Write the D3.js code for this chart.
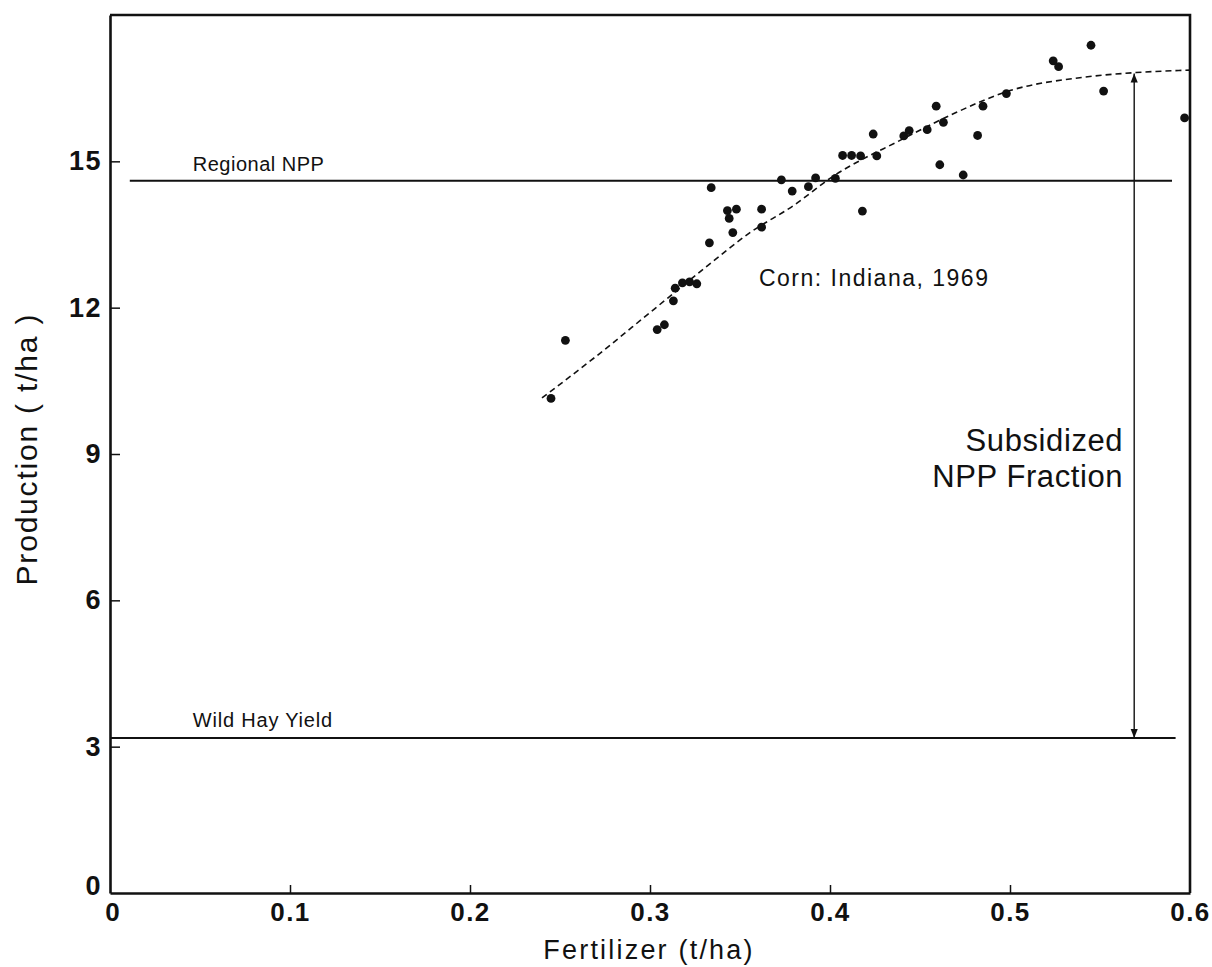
<!DOCTYPE html>
<html>
<head>
<meta charset="utf-8">
<script src="https://cdn.jsdelivr.net/npm/d3@7"></script>
<style>
  body { margin: 0; background: #fff; }
  text { font-family: "Liberation Sans", Arial, Helvetica, sans-serif; fill: #111; }
</style>
</head>
<body>
<svg id="chart" width="1212" height="967"></svg>
<script>
// ---- data ----
const fertilizer = [0.245, 0.253, 0.304, 0.308, 0.313, 0.314, 0.318, 0.322, 0.326, 0.333,
  0.334, 0.343, 0.348, 0.344, 0.346, 0.362, 0.362, 0.373, 0.379, 0.388,
  0.392, 0.403, 0.407, 0.412, 0.417, 0.418, 0.424, 0.426, 0.441, 0.444,
  0.454, 0.459, 0.463, 0.461, 0.474, 0.482, 0.485, 0.498, 0.524, 0.527,
  0.545, 0.552, 0.597];
const production = [10.14, 11.33, 11.55, 11.65, 12.14, 12.40, 12.51, 12.53, 12.49, 13.33,
  14.46, 13.99, 14.02, 13.83, 13.54, 14.02, 13.65, 14.62, 14.39, 14.48,
  14.66, 14.65, 15.12, 15.12, 15.11, 13.98, 15.56, 15.11, 15.52, 15.63,
  15.65, 16.13, 15.80, 14.93, 14.72, 15.53, 16.13, 16.39, 17.06, 16.94,
  17.38, 16.44, 15.89];

// fitted (dashed) curve
const fitX = [0.240, 0.270, 0.300, 0.330, 0.356, 0.380, 0.400, 0.440, 0.470, 0.500, 0.540, 0.570, 0.600];
const fitY = [10.15, 11.00, 11.90, 12.80, 13.55, 14.10, 14.65, 15.45, 16.00, 16.45, 16.72, 16.82, 16.87];

const xTicks = [0, 0.1, 0.2, 0.3, 0.4, 0.5, 0.6];
const xTickLabels = ["0", "0.1", "0.2", "0.3", "0.4", "0.5", "0.6"];
const yTicks = [0, 3, 6, 9, 12, 15];
const yTickLabels = ["0", "3", "6", "9", "12", "15"];

const regionalNPP = 14.6;      // t/ha
const regionalNPPSpan = [0.011, 0.590];
const wildHay = 3.18;          // t/ha
const wildHaySpan = [0.0, 0.592];
const arrowX = 0.569;
const arrowTop = 16.8;

// ---- layout ----
const svg = d3.select("#chart");
const x = d3.scaleLinear().domain([0, 0.6]).range([110, 1190]);
const y = d3.scaleLinear().domain([0, 18]).range([893, 15]);

const defs = svg.append("defs");
defs.append("marker").attr("id", "ah")
  .attr("viewBox", "0 0 10 10").attr("refX", 10).attr("refY", 5)
  .attr("markerWidth", 9).attr("markerHeight", 9)
  .attr("markerUnits", "userSpaceOnUse")
  .attr("orient", "auto-start-reverse")
  .append("path").attr("d", "M0,1 L10,5 L0,9 Z").attr("fill", "#111");

// frame (top and right sides)
svg.append("path")
  .attr("d", `M${x(0)},${y(18)} L${x(0.6)},${y(18)} L${x(0.6)},${y(0)}`)
  .attr("fill", "none").attr("stroke", "#111").attr("stroke-width", 2.6);

// axes
const xAxis = svg.append("g").attr("transform", `translate(0,${y(0)})`)
  .call(d3.axisBottom(x).tickValues(xTicks).tickSize(0).tickPadding(10)
    .tickFormat((d, i) => xTickLabels[i]));
xAxis.select(".domain").attr("stroke", "#111").attr("stroke-width", 2.6);
xAxis.selectAll("text").attr("font-size", 26).attr("font-weight", "bold")
  .attr("letter-spacing", 1.5).attr("fill", "#111");
xAxis.selectAll(".tick").filter(d => d > 0 && d < 0.6)
  .append("line").attr("y1", 0).attr("y2", -8).attr("stroke", "#111").attr("stroke-width", 1.5);

const yAxis = svg.append("g").attr("transform", `translate(${x(0)},0)`)
  .call(d3.axisLeft(y).tickValues(yTicks).tickSize(0).tickPadding(8)
    .tickFormat((d, i) => yTickLabels[i]));
yAxis.select(".domain").attr("stroke", "#111").attr("stroke-width", 2.6);
yAxis.selectAll("text").attr("font-size", 27).attr("font-weight", "bold")
  .attr("letter-spacing", 1.5).attr("fill", "#111");
yAxis.selectAll(".tick").filter(d => d > 0)
  .append("line").attr("x1", 0).attr("x2", 10).attr("stroke", "#111").attr("stroke-width", 1.5);
yAxis.selectAll(".tick").filter(d => d === 0).select("text").attr("dy", "0.05em");
xAxis.selectAll(".tick").filter(d => d === 0).select("text").attr("dx", "0.1em");

// axis titles
svg.append("text")
  .attr("x", x(0.3) - 1).attr("y", 959)
  .attr("text-anchor", "middle").attr("font-size", 27).attr("letter-spacing", 2.2)
  .text("Fertilizer (t/ha)");
svg.append("text")
  .attr("transform", `translate(37,${y(9.1)}) rotate(-90)`)
  .attr("text-anchor", "middle").attr("font-size", 30).attr("letter-spacing", 1.8)
  .text("Production ( t/ha )");

// horizontal reference lines
svg.append("line")
  .attr("x1", x(regionalNPPSpan[0])).attr("x2", x(regionalNPPSpan[1]))
  .attr("y1", y(regionalNPP)).attr("y2", y(regionalNPP))
  .attr("stroke", "#111").attr("stroke-width", 2);
svg.append("line")
  .attr("x1", x(wildHaySpan[0])).attr("x2", x(wildHaySpan[1]))
  .attr("y1", y(wildHay)).attr("y2", y(wildHay))
  .attr("stroke", "#111").attr("stroke-width", 2);

svg.append("text").attr("x", x(0.046)).attr("y", y(regionalNPP) - 10)
  .attr("font-size", 20).attr("letter-spacing", 0.5).text("Regional NPP");
svg.append("text").attr("x", x(0.046)).attr("y", y(wildHay) - 11)
  .attr("font-size", 20).attr("letter-spacing", 0.8).text("Wild Hay Yield");

// fitted curve
const fit = fitX.map((d, i) => [d, fitY[i]]);
svg.append("path").datum(fit)
  .attr("d", d3.line().x(d => x(d[0])).y(d => y(d[1])).curve(d3.curveMonotoneX))
  .attr("fill", "none").attr("stroke", "#111").attr("stroke-width", 1.6)
  .attr("stroke-dasharray", "6,4");

// points
svg.append("g").selectAll("circle")
  .data(fertilizer.map((d, i) => [d, production[i]]))
  .join("circle")
  .attr("cx", d => x(d[0])).attr("cy", d => y(d[1])).attr("r", 4.4)
  .attr("fill", "#111");

svg.append("text").attr("x", x(0.3605)).attr("y", y(12.45))
  .attr("font-size", 23).attr("letter-spacing", 1.5).text("Corn: Indiana, 1969");

// double-headed arrow
svg.append("line")
  .attr("x1", x(arrowX)).attr("x2", x(arrowX))
  .attr("y1", y(wildHay)).attr("y2", y(arrowTop))
  .attr("stroke", "#111").attr("stroke-width", 1.4)
  .attr("marker-start", "url(#ah)").attr("marker-end", "url(#ah)");

const lab = svg.append("text").attr("text-anchor", "end").attr("font-size", 31)
  .attr("letter-spacing", 0.6);
lab.append("tspan").attr("x", x(arrowX) - 11).attr("y", y(9.06)).text("Subsidized");
lab.append("tspan").attr("x", x(arrowX) - 11).attr("y", y(9.06) + 36).text("NPP Fraction");
</script>
</body>
</html>
